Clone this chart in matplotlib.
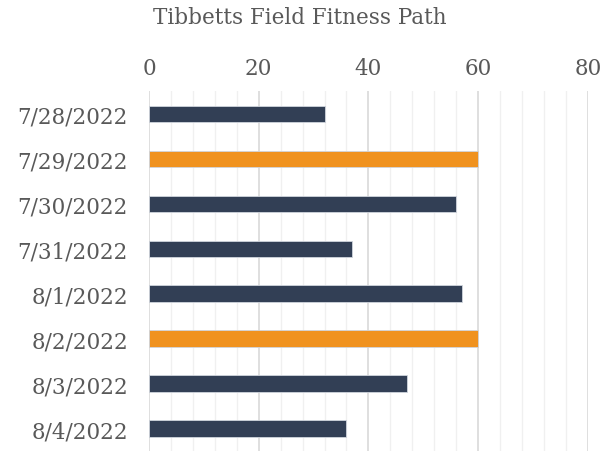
import matplotlib.pyplot as plt
import numpy as np

dates = ["7/28/2022", "7/29/2022", "7/30/2022", "7/31/2022",
         "8/1/2022", "8/2/2022", "8/3/2022", "8/4/2022"]
values = [32, 60, 56, 37, 57, 60, 47, 36]
highlight = [False, True, False, False, False, True, False, False]

navy = "#323F55"
orange = "#F0921F"
grey = "#595959"
colors = [orange if h else navy for h in highlight]

plt.rcParams["font.family"] = ["DejaVu Serif"]

fig = plt.figure(figsize=(6.03, 4.52), dpi=100)
ax = fig.add_axes([0.247, 0.0, 0.728, 0.796])

y = np.arange(len(dates))
ax.barh(y, values, height=0.36, color=colors, edgecolor="#d0d5dd", linewidth=0.6, zorder=3)

ax.set_xlim(0, 80)
ax.set_ylim(len(dates) - 0.5, -0.5)
ax.set_yticks(y)
ax.set_yticklabels(dates, fontsize=15.5, color=grey)
ax.set_xticks(np.arange(0, 81, 20))
ax.set_xticks(np.arange(0, 81, 4), minor=True)
ax.xaxis.tick_top()
ax.tick_params(axis="x", which="both", length=0, labelsize=15.5, labelcolor=grey, pad=9)
ax.tick_params(axis="y", length=0, pad=15)

ax.grid(axis="x", which="major", color="#d9d9d9", linewidth=1.2, zorder=0)
ax.grid(axis="x", which="minor", color="#f0f0f0", linewidth=1.0, zorder=0)
for s in ax.spines.values():
    s.set_visible(False)

fig.text(0.497, 0.96, "Tibbetts Field Fitness Path", ha="center", va="center",
         fontsize=15.5, color=grey)

fig.savefig("out.png", dpi=100)
